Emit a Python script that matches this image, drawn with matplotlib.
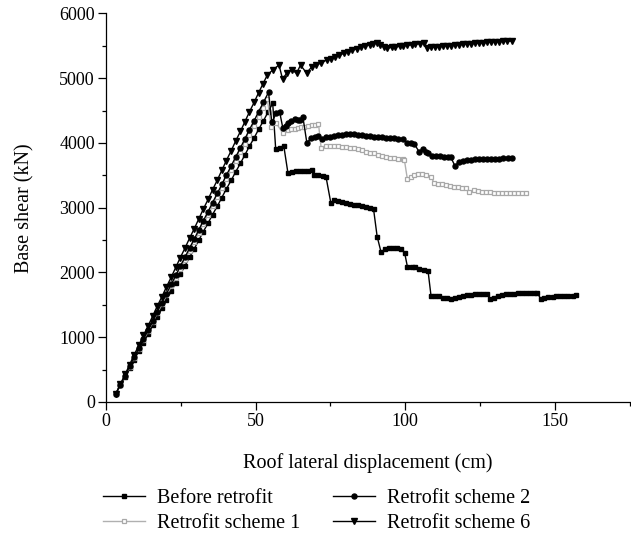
import matplotlib
matplotlib.use("Agg")
import matplotlib.pyplot as plt
from matplotlib.ticker import MultipleLocator

plt.rcParams['font.family'] = ['Liberation Serif', 'DejaVu Serif']

# ---------------- data ----------------
before_x = [3.3, 4.8, 6.4, 7.9, 9.4, 11.0, 12.5, 14.1, 15.6, 17.1, 18.7, 20.2, 21.8, 23.3, 24.8,
            26.4, 27.9, 29.5, 31.0, 32.5, 34.1, 35.6, 37.2, 38.7, 40.2, 41.8, 43.3, 44.9, 46.4,
            47.9, 49.5, 51.0, 52.6, 54.1, 55.7,
            56.7, 58.1, 59.4, 60.8, 62.1, 63.5, 64.8, 66.1, 67.5, 68.8, 69.6, 71.0, 72.5, 73.5,
            75.1, 76.3, 77.6, 79.0, 80.3, 81.6, 83.0, 84.3, 85.6, 87.0, 88.3, 89.4, 90.6, 91.9,
            93.2, 94.6, 95.9, 97.2, 98.6, 99.8, 100.7, 102.1, 103.4, 104.7, 106.1, 107.6, 108.6,
            110.0, 111.3, 112.6, 114.0, 115.2, 116.5, 117.9, 119.2, 120.5, 121.9, 123.2, 124.5,
            125.9, 127.4, 128.2, 129.6, 130.9, 132.2, 133.6, 134.9, 136.2, 137.6, 138.9, 140.2,
            141.6, 142.9, 144.1, 145.2, 146.5, 147.8, 149.2, 150.5, 151.8, 153.2, 154.5, 155.9, 157.1]
before_y = [128, 260, 391, 523, 655, 787, 918, 1050, 1182, 1313, 1445, 1577, 1708, 1840, 1972,
            2104, 2235, 2367, 2499, 2630, 2762, 2894, 3025, 3157, 3289, 3421, 3552, 3684, 3816,
            3947, 4079, 4211, 4342, 4474, 4614,
            3904, 3930, 3955, 3533, 3555, 3565, 3570, 3572, 3575, 3580, 3505, 3500, 3495, 3480,
            3080, 3115, 3110, 3095, 3080, 3065, 3050, 3035, 3020, 3005, 2995, 2978, 2555, 2315,
            2360, 2375, 2378, 2375, 2365, 2300, 2092, 2088, 2078, 2060, 2045, 2026, 1640,
            1638, 1630, 1612, 1600, 1589, 1605, 1620, 1635, 1648, 1658, 1665, 1668,
            1670, 1671, 1589, 1610, 1630, 1650, 1665, 1670, 1673, 1676, 1679, 1682,
            1685, 1688, 1691, 1594, 1610, 1618, 1625, 1630, 1634, 1637, 1640, 1643, 1645]

s1_x = [3.3, 4.8, 6.4, 7.9, 9.4, 11.0, 12.5, 14.1, 15.6, 17.1, 18.7, 20.2, 21.8, 23.3, 24.8,
        26.4, 27.9, 29.5, 31.0, 32.5, 34.1, 35.6, 37.2, 38.7, 40.2, 41.8, 43.3, 44.9, 46.4,
        47.9, 49.5, 51.0, 52.6, 53.9,
        55.2, 56.9, 59.1, 60.8, 61.9, 63.0, 64.2, 65.3, 66.3, 67.6, 68.7, 69.8, 71.0, 71.9,
        73.6, 74.9, 76.3, 77.6, 79.0, 80.3, 81.6, 83.0, 84.3, 85.6, 87.0, 88.3, 89.6, 91.0,
        92.3, 93.6, 95.0, 96.3, 97.7, 99.1, 99.7, 100.7, 101.8, 103.0, 104.2, 105.5, 106.9,
        108.5, 109.7, 111.0, 112.3, 113.7, 115.0, 116.3, 117.7, 119.0, 120.2, 121.4, 123.0,
        124.3, 125.7, 127.0, 128.3, 129.7, 131.0, 132.3, 133.7, 135.0, 136.3, 137.7, 139.0, 140.5]
s1_y = [128, 266, 404, 542, 680, 818, 956, 1094, 1232, 1370, 1508, 1646, 1784, 1922, 2060,
        2198, 2336, 2474, 2612, 2750, 2888, 3026, 3164, 3302, 3440, 3578, 3716, 3854, 3992,
        4130, 4268, 4406, 4544, 4680,
        4252, 4305, 4150, 4202, 4210, 4220, 4232, 4242, 4252, 4262, 4272, 4284, 4294, 3919,
        3955, 3958, 3955, 3948, 3940, 3932, 3924, 3915, 3900, 3885, 3868, 3852, 3838, 3820,
        3805, 3790, 3775, 3762, 3752, 3745, 3739, 3441, 3480, 3507, 3522, 3518, 3507,
        3481, 3379, 3370, 3360, 3348, 3336, 3325, 3315, 3308, 3302, 3250, 3276,
        3262, 3250, 3243, 3238, 3235, 3232, 3230, 3228, 3227, 3226, 3225, 3225, 3225]

s2_x = [3.3, 4.8, 6.4, 7.9, 9.4, 11.0, 12.5, 14.1, 15.6, 17.1, 18.7, 20.2, 21.8, 23.3, 24.8,
        26.4, 27.9, 29.5, 31.0, 32.5, 34.1, 35.6, 37.2, 38.7, 40.2, 41.8, 43.3, 44.9, 46.4,
        47.9, 49.5, 51.0, 52.6, 54.3,
        55.4, 56.9, 58.0, 59.1, 60.1, 60.8, 61.9, 63.0, 64.1, 64.7, 65.8, 67.1, 68.6, 69.7,
        70.7, 72.3, 73.6, 74.9, 76.3, 77.6, 79.0, 80.3, 81.6, 83.0, 84.3, 85.6, 87.0, 88.3,
        89.6, 91.0, 92.3, 93.6, 95.0, 96.3, 97.7, 99.1, 100.7, 101.8, 103.0, 104.6, 105.8,
        106.9, 107.7, 109.0, 110.4, 111.7, 113.0, 114.2, 115.2, 116.6, 118.0, 119.3, 120.6,
        122.0, 123.3, 124.6, 126.0, 127.3, 128.6, 130.0, 131.3, 132.6, 134.2, 135.7]
s2_y = [128, 269, 409, 550, 690, 831, 971, 1112, 1252, 1393, 1533, 1674, 1815, 1955, 2096,
        2236, 2377, 2517, 2658, 2798, 2939, 3080, 3220, 3361, 3501, 3642, 3782, 3923, 4063,
        4204, 4344, 4485, 4626, 4783,
        4320, 4459, 4484, 4228, 4270, 4305, 4340, 4367, 4360, 4356, 4398, 4006, 4074, 4095,
        4109, 4058, 4089, 4100, 4112, 4120, 4128, 4133, 4137, 4140, 4130, 4118, 4110, 4103,
        4098, 4093, 4088, 4083, 4078, 4070, 4064, 4058, 4006, 3998, 3985, 3867, 3904,
        3860, 3852, 3800, 3795, 3792, 3788, 3784, 3780, 3646, 3713, 3725, 3735,
        3740, 3745, 3749, 3752, 3754, 3756, 3758, 3760, 3761, 3763, 3765]

s6_x = [3.3, 4.8, 6.4, 7.9, 9.4, 11.0, 12.5, 14.1, 15.6, 17.1, 18.7, 20.2, 21.8, 23.3, 24.8,
        26.4, 27.9, 29.5, 31.0, 32.5, 34.1, 35.6, 37.2, 38.7, 40.2, 41.8, 43.3, 44.9, 46.4,
        47.9, 49.5, 51.0, 52.5, 53.9, 55.7, 57.8,
        59.0, 60.4, 62.0, 63.7, 65.0, 67.0, 68.7, 70.3, 72.0, 73.7, 75.2, 76.6, 78.0, 79.5,
        80.9, 82.3, 83.8, 85.2, 86.7, 88.1, 89.3, 90.4, 91.7, 92.9, 94.0, 95.4, 96.7, 98.1,
        99.4, 100.7, 102.1, 103.4, 104.8, 106.4, 107.3, 108.6, 110.0, 111.3, 112.6, 114.0,
        115.3, 116.6, 118.0, 119.3, 120.6, 122.0, 123.3, 124.6, 126.0, 127.3, 128.6, 130.0,
        131.3, 132.7, 134.1, 135.6]
s6_y = [128, 278, 428, 578, 728, 878, 1028, 1178, 1328, 1478, 1628, 1778, 1928, 2078, 2228,
        2378, 2528, 2678, 2828, 2978, 3128, 3278, 3428, 3578, 3728, 3878, 4028, 4178, 4328,
        4478, 4628, 4778, 4918, 5050, 5127, 5205,
        4987, 5080, 5127, 5080, 5204, 5080, 5173, 5204, 5240, 5281, 5300, 5330, 5358, 5385,
        5410, 5432, 5455, 5478, 5500, 5518, 5530, 5543, 5510, 5480, 5466, 5475, 5484, 5492,
        5500, 5508, 5516, 5525, 5533, 5543, 5466, 5475, 5482, 5488, 5494, 5500,
        5505, 5510, 5516, 5521, 5527, 5532, 5538, 5543, 5548, 5553, 5558, 5562,
        5566, 5569, 5572, 5574]

labels = ["Before retrofit", "Retrofit scheme 1", "Retrofit scheme 2", "Retrofit scheme 6"]
x_ticks = [0, 50, 100, 150]
y_ticks = [0, 1000, 2000, 3000, 4000, 5000, 6000]

# ---------------- plot ----------------
fig = plt.figure(figsize=(6.31, 5.37), dpi=100)
ax = fig.add_axes([0.168, 0.2514, 0.830, 0.7235])

ax.plot(before_x, before_y, color='black', lw=1.0, marker='s', ms=3.4,
        mfc='black', mec='black', label=labels[0])
ax.plot(s1_x, s1_y, color='#b0b0b0', lw=1.0, marker='s', ms=3.4,
        mfc='white', mec='#a8a8a8', mew=0.9, label=labels[1])
ax.plot(s2_x, s2_y, color='black', lw=1.0, marker='o', ms=3.6,
        mfc='black', mec='black', label=labels[2])
ax.plot(s6_x, s6_y, color='black', lw=1.0, marker='v', ms=4.0,
        mfc='black', mec='black', label=labels[3])

ax.set_xlim(0, 175)
ax.set_ylim(0, 6000)
ax.set_xticks(x_ticks)
ax.set_yticks(y_ticks)
ax.xaxis.set_minor_locator(MultipleLocator(25))
ax.yaxis.set_minor_locator(MultipleLocator(500))
ax.tick_params(axis='both', which='major', direction='out', length=5.5, width=0.9,
               labelsize=13, colors='black', pad=2.5)
ax.tick_params(axis='both', which='minor', direction='out', length=3.2, width=0.9)
for s in ['top', 'right']:
    ax.spines[s].set_visible(False)
for s in ['left', 'bottom']:
    ax.spines[s].set_linewidth(0.9)

ax.set_xlabel("Roof lateral displacement (cm)", fontsize=14.5)
ax.set_ylabel("Base shear (kN)", fontsize=14.5)
ax.xaxis.set_label_coords(0.5, -0.132)
ax.yaxis.set_label_coords(-0.137, 0.5)

leg = fig.legend(loc='upper left', bbox_to_anchor=(0.163, 0.089), ncol=2, frameon=False,
                 fontsize=14.5, numpoints=1, handlelength=2.1, columnspacing=1.6,
                 handletextpad=0.6, labelspacing=0.3, borderpad=0, borderaxespad=0)

fig.savefig("out.png", dpi=100)
